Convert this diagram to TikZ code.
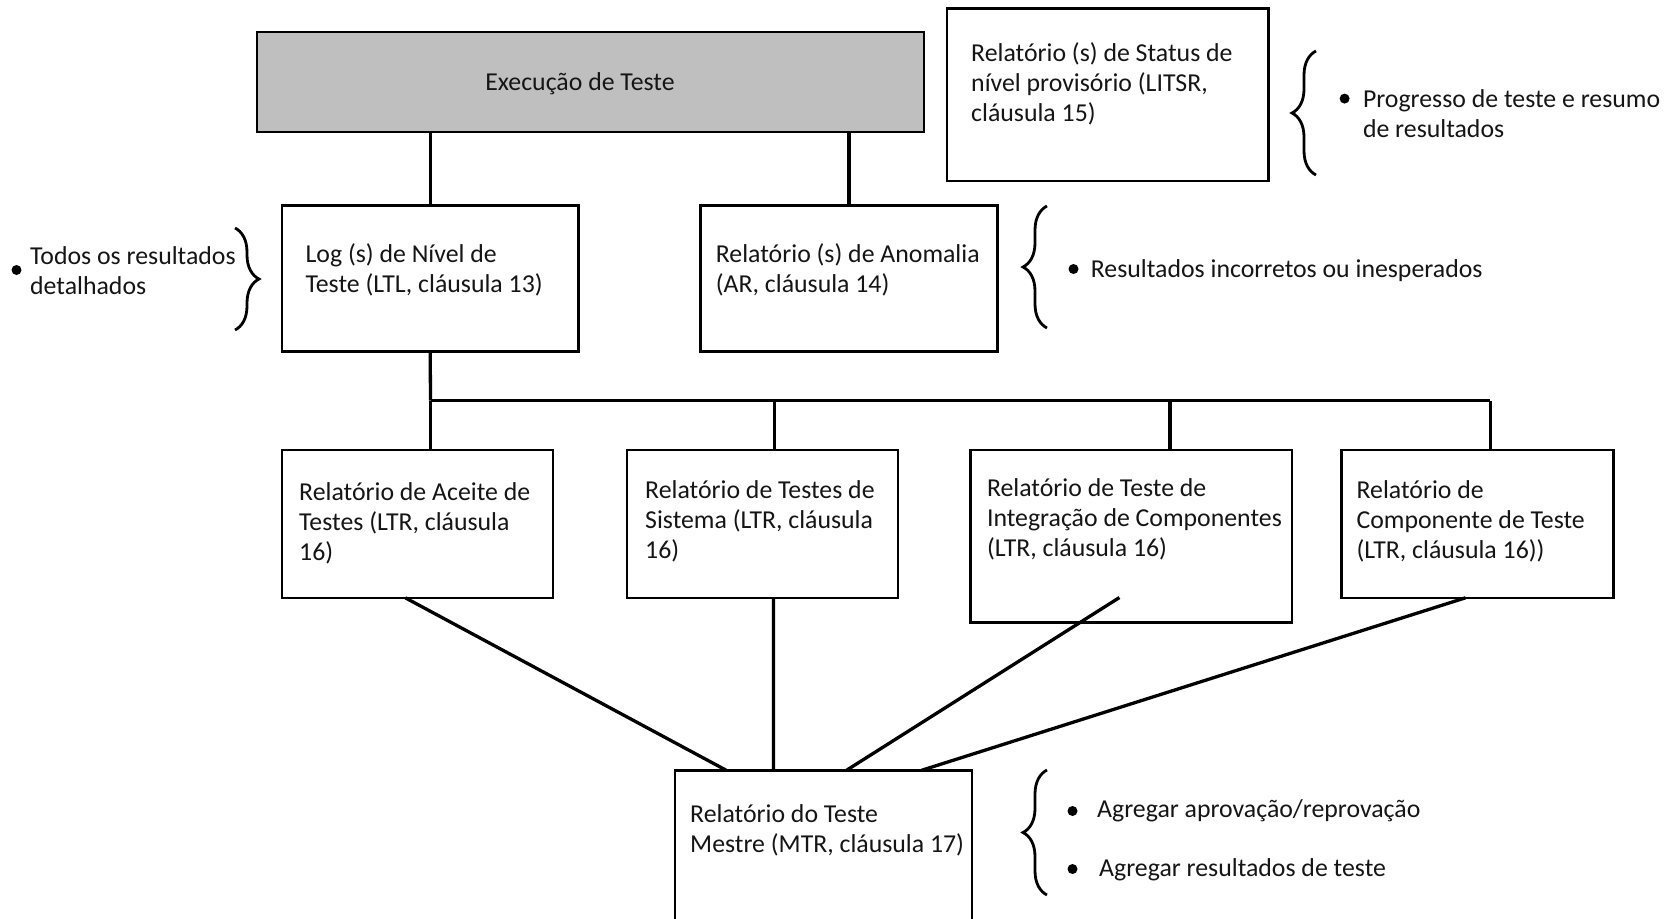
\documentclass[tikz,border=0pt]{standalone}
\usepackage{fontspec}
\setmainfont{Carlito}
\usetikzlibrary{decorations.pathreplacing}
\definecolor{txtc}{HTML}{151515}
\definecolor{execfill}{HTML}{BFBFBF}
\begin{document}
\begin{tikzpicture}[x=1pt,y=-1pt,
  box/.style={draw=black, line width=2.6pt, fill=white, inner sep=0pt, outer sep=0pt},
  lbl/.style={font=\fontsize{25.8}{30}\selectfont, text=txtc, align=left, inner sep=0pt, anchor=north west},
  conn/.style={line width=3.3pt, draw=black},
  brc/.style={decorate, decoration={brace, amplitude=24pt}, line width=2.8pt},
  bul/.style={circle, fill=black, inner sep=0pt, minimum size=10pt}
]
\useasboundingbox (0,0) rectangle (1680,918);
\fill[white] (0,0) rectangle (1680,918);

% boxes
\node[box, fill=execfill, minimum width=667pt, minimum height=100pt] (exec) at (590.5,82) {};
\node[box, minimum width=321.5pt, minimum height=172.4pt] (status) at (1107.8,94.8) {};
\node[box, minimum width=296.8pt, minimum height=145.7pt] (log) at (430.2,278.6) {};
\node[box, minimum width=296.8pt, minimum height=145.7pt] (anom) at (849.1,278.6) {};
\node[box, minimum width=271pt, minimum height=147.8pt] (aceite) at (417.3,523.9) {};
\node[box, minimum width=271pt, minimum height=147.8pt] (sistema) at (762.3,523.9) {};
\node[box, minimum width=321.3pt, minimum height=172.5pt] (integ) at (1131.4,536.3) {};
\node[box, minimum width=272.1pt, minimum height=147.8pt] (comp) at (1477.5,523.9) {};
\node[box, minimum width=296.8pt, minimum height=153.7pt] (mtr) at (823.4,847.2) {};

% box texts
\node[lbl, anchor=base] (exect) at (580,90) {Execução de Teste};
\node[lbl] (statust) at (971,40.6) {\strut Relatório (s) de Status de\\nível provisório (LITSR,\\cláusula 15)};
\node[lbl] (logt) at (305.4,241) {\strut Log (s) de Nível de\\Teste (LTL, cláusula 13)};
\node[lbl] (anomt) at (715.7,241) {\strut Relatório (s) de Anomalia\\(AR, cláusula 14)};
\node[lbl] (aceitet) at (299,479.6) {\strut Relatório de Aceite de\\Testes (LTR, cláusula\\16)};
\node[lbl] (sistemat) at (645,477.6) {\strut Relatório de Testes de\\Sistema (LTR, cláusula\\16)};
\node[lbl] (integt) at (986.8,475.6) {\strut Relatório de Teste de\\Integração de Componentes\\(LTR, cláusula 16)};
\node[lbl] (compt) at (1356.4,477.6) {\strut Relatório de\\Componente de Teste\\(LTR, cláusula 16))};
\node[lbl] (mtrt) at (690,801.6) {\strut Relatório do Teste\\Mestre (MTR, cláusula 17)};

% connectors top
\draw[conn] (log.north |- exec.south) -- (log.north);
\draw[conn] (anom.north |- exec.south) -- (anom.north);

% bus
\coordinate (busL) at (430.5,400.7);
\coordinate (j2) at (774.6,400.7);
\coordinate (j3) at (1170,400.7);
\coordinate (busR) at (1490.3,400.7);
\draw[conn] (log.south) -- (busL);
\draw[conn] (busL) -- (busR);
\draw[conn] (busL) -- (busL |- aceite.north);
\draw[conn] (j2) -- (j2 |- sistema.north);
\draw[conn] (j3) -- (j3 |- integ.north);
\draw[conn] (busR) -- (busR |- comp.north);

% connectors to master
\draw[conn] ([xshift=-12pt]aceite.south) -- ([xshift=-97pt]mtr.north);
\draw[conn] ([xshift=11.2pt]sistema.south) -- ([xshift=-50pt]mtr.north);
\draw[conn] ([xshift=-12pt,yshift=25pt]integ.south) -- ([xshift=23pt]mtr.north);
\draw[conn] ([xshift=-12pt]comp.south) -- ([xshift=98pt]mtr.north);

% braces
\coordinate (b1a) at (235,228); \coordinate (b1b) at (235,330);
\draw[brc] (b1a) -- (b1b);
\coordinate (b2a) at (1316,175); \coordinate (b2b) at (1316,51);
\draw[brc] (b2a) -- (b2b);
\coordinate (b3a) at (1047,328); \coordinate (b3b) at (1047,206);
\draw[brc] (b3a) -- (b3b);
\coordinate (b4a) at (1047,895); \coordinate (b4b) at (1047,770);
\draw[brc] (b4a) -- (b4b);

% bullets and notes
\node[bul] (d1) at (16.5,270) {};
\node[lbl] (n1) at (30,243.6) {\strut Todos os resultados\\detalhados};
\node[bul] (d2) at (1344.6,98.6) {};
\node[lbl] (n2) at (1362.8,86.6) {\strut Progresso de teste e resumo\\de resultados};
\node[bul] (d3) at (1073.5,269) {};
\node[lbl, anchor=base west] (n3) at (1090.7,277.5) {Resultados incorretos ou inesperados};
\node[bul] (d4) at (1072.5,811) {};
\node[lbl, anchor=base west] (n4) at (1097,817.5) {Agregar aprovação/reprovação};
\node[bul] (d5) at (1072.5,869) {};
\node[lbl, anchor=base west] (n5) at (1099,876.5) {Agregar resultados de teste};
\end{tikzpicture}
\end{document}
